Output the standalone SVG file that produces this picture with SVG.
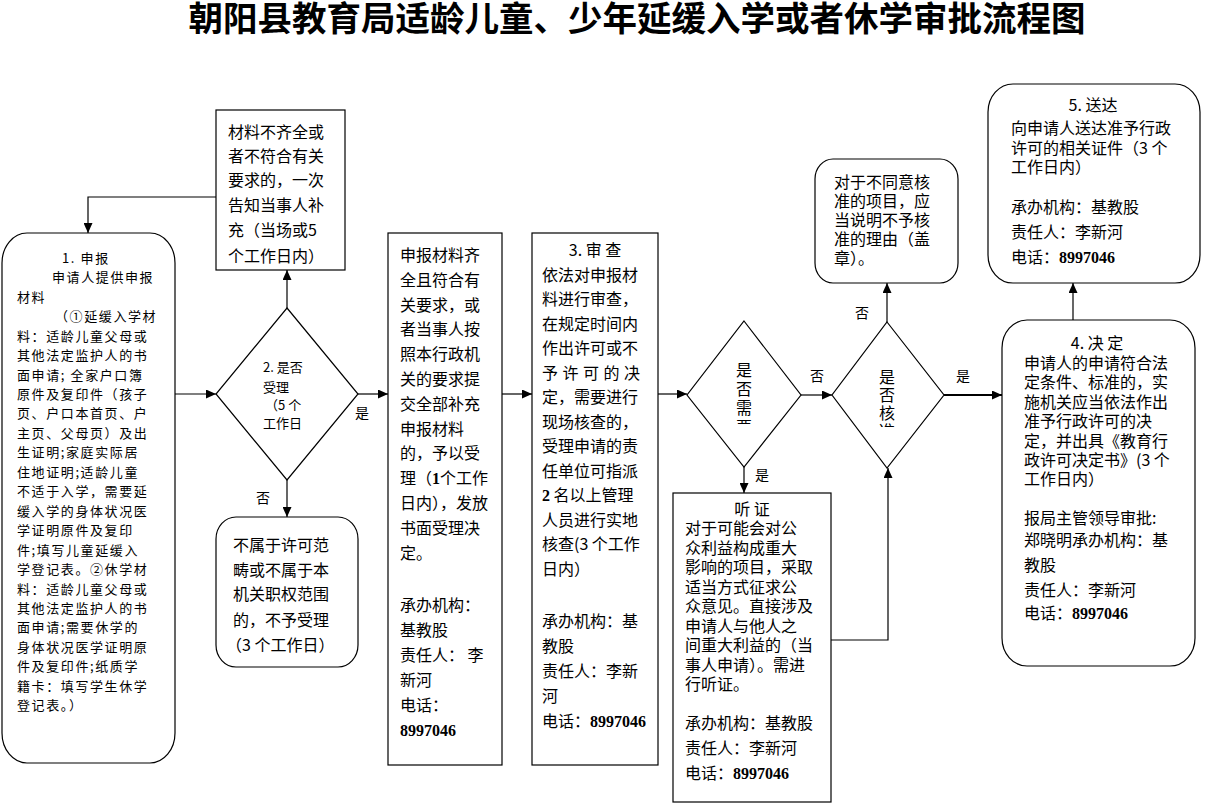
<svg xmlns="http://www.w3.org/2000/svg" width="1214" height="803" viewBox="0 0 1214 803">
<style>
  text { font-family: "Noto Sans CJK SC", "DejaVu Sans", sans-serif; fill: #000; }
  .t { font-size: 16px; }
  .s { font-size: 13px; letter-spacing: 1.6px; }
  .d { font-size: 13px; }
  .lbl { font-size: 14px; text-anchor: middle; }
  .v { font-size: 16px; writing-mode: vertical-rl; }
  .c { text-anchor: middle; }
  .num { font-family: "Liberation Serif", serif; font-weight: bold; }
  .title { font-size: 34.5px; font-weight: bold; text-anchor: middle; }
  .box { fill: #fff; stroke: #000; stroke-width: 1.2; }
  .ln { fill: none; stroke: #000; stroke-width: 1.2; }
</style>
<defs>
  <marker id="ah" markerUnits="userSpaceOnUse" markerWidth="10" markerHeight="9" refX="10" refY="4.5" orient="auto">
    <path d="M0,0 L10,4.5 L0,9 z" fill="#000"/>
  </marker>
  <clipPath id="clip3"><rect x="720" y="350" width="50" height="74"/></clipPath>
  <clipPath id="clip4"><rect x="863" y="355" width="50" height="72"/></clipPath>
</defs>
<rect width="1214" height="803" fill="#fff"/>
<text class="title" x="637" y="31">朝阳县教育局适龄儿童、少年延缓入学或者休学审批流程图</text>

<g id="connectors">
  <polyline class="ln" points="216,197 88,197 88,233" marker-end="url(#ah)"/>
  <line class="ln" x1="175" y1="394" x2="216" y2="394" marker-end="url(#ah)"/>
  <line class="ln" x1="287" y1="308" x2="287" y2="270" marker-end="url(#ah)"/>
  <line class="ln" x1="358" y1="394" x2="388" y2="394" marker-end="url(#ah)"/>
  <line class="ln" x1="287" y1="480" x2="287" y2="517" marker-end="url(#ah)"/>
  <line class="ln" x1="502" y1="394" x2="532" y2="394" marker-end="url(#ah)"/>
  <line class="ln" x1="658" y1="394" x2="687" y2="394" marker-end="url(#ah)"/>
  <line class="ln" x1="744" y1="467" x2="744" y2="493" marker-end="url(#ah)"/>
  <line class="ln" x1="801" y1="395" x2="832" y2="395" marker-end="url(#ah)"/>
  <polyline class="ln" points="831,640 888,640 888,468" marker-end="url(#ah)"/>
  <line class="ln" x1="887" y1="322" x2="887" y2="283" marker-end="url(#ah)"/>
  <line class="ln" x1="944" y1="395" x2="1002" y2="395" marker-end="url(#ah)" style="stroke-width:2.2"/>
  <line class="ln" x1="1073" y1="320" x2="1073" y2="283" marker-end="url(#ah)"/>
  <text class="lbl" x="362" y="418">是</text>
  <text class="lbl" x="263" y="503">否</text>
  <text class="lbl" x="762" y="480">是</text>
  <text class="lbl" x="817" y="381">否</text>
  <text class="lbl" x="862" y="318">否</text>
  <text class="lbl" x="963" y="381">是</text>
</g>

<g id="n1">
  <rect class="box" x="2" y="233" width="173" height="530" rx="25" ry="30"/>
  <text class="s">
    <tspan x="62" y="262.8">1. 申报</tspan>
    <tspan x="52" y="282.2">申请人提供申报</tspan>
    <tspan x="17" y="301.7">材料</tspan>
    <tspan x="55" y="321.1">（①延缓入学材</tspan>
    <tspan x="17" y="340.6">料：适龄儿童父母或</tspan>
    <tspan x="17" y="360.0">其他法定监护人的书</tspan>
    <tspan x="17" y="379.5">面申请; 全家户口簿</tspan>
    <tspan x="17" y="399.0">原件及复印件（孩子</tspan>
    <tspan x="17" y="418.4">页、户口本首页、户</tspan>
    <tspan x="17" y="437.9">主页、父母页）及出</tspan>
    <tspan x="17" y="457.3">生证明;家庭实际居</tspan>
    <tspan x="17" y="476.8">住地证明;适龄儿童</tspan>
    <tspan x="17" y="496.2">不适于入学，需要延</tspan>
    <tspan x="17" y="515.6">缓入学的身体状况医</tspan>
    <tspan x="17" y="535.1">学证明原件及复印</tspan>
    <tspan x="17" y="554.6">件;填写儿童延缓入</tspan>
    <tspan x="17" y="574.0">学登记表。②休学材</tspan>
    <tspan x="17" y="593.5">料：适龄儿童父母或</tspan>
    <tspan x="17" y="612.9">其他法定监护人的书</tspan>
    <tspan x="17" y="632.4">面申请;需要休学的</tspan>
    <tspan x="17" y="651.8">身体状况医学证明原</tspan>
    <tspan x="17" y="671.3">件及复印件;纸质学</tspan>
    <tspan x="17" y="690.7">籍卡：填写学生休学</tspan>
    <tspan x="17" y="710.2">登记表。）</tspan>
  </text>
</g>

<g id="n_buqi">
  <rect class="box" x="216" y="110" width="129" height="160"/>
  <text class="t">
    <tspan x="228" y="138">材料不齐全或</tspan>
    <tspan x="228" y="162">者不符合有关</tspan>
    <tspan x="228" y="186">要求的，一次</tspan>
    <tspan x="228" y="211">告知当事人补</tspan>
    <tspan x="228" y="236">充（当场或5</tspan>
    <tspan x="228" y="262">个工作日内）</tspan>
  </text>
</g>

<g id="n2">
  <polygon class="box" points="287,308 358,394 287,480 216,394"/>
  <text class="d">
    <tspan x="263" y="372">2. 是否</tspan>
    <tspan x="263" y="392">受理</tspan>
    <tspan x="265" y="410">（5 个</tspan>
    <tspan x="263" y="428">工作日</tspan>
  </text>
</g>

<g id="n_bushu">
  <rect class="box" x="216" y="517" width="142" height="150" rx="20" ry="22"/>
  <text class="t">
    <tspan x="233" y="551">不属于许可范</tspan>
    <tspan x="233" y="576">畴或不属于本</tspan>
    <tspan x="233" y="600">机关职权范围</tspan>
    <tspan x="233" y="626">的，不予受理</tspan>
    <tspan x="226" y="651">（3 个工作日）</tspan>
  </text>
</g>

<g id="n_shouli">
  <rect class="box" x="388" y="233" width="114" height="532"/>
  <text class="t">
    <tspan x="400" y="261">申报材料齐</tspan>
    <tspan x="400" y="286">全且符合有</tspan>
    <tspan x="400" y="311">关要求，或</tspan>
    <tspan x="400" y="335">者当事人按</tspan>
    <tspan x="400" y="360">照本行政机</tspan>
    <tspan x="400" y="385">关的要求提</tspan>
    <tspan x="400" y="410">交全部补充</tspan>
    <tspan x="400" y="435">申报材料</tspan>
    <tspan x="400" y="459">的，予以受</tspan>
    <tspan x="400" y="484">理（<tspan class="num">1</tspan>个工作</tspan>
    <tspan x="400" y="509">日内），发放</tspan>
    <tspan x="400" y="534">书面受理决</tspan>
    <tspan x="400" y="559">定。</tspan>
    <tspan x="400" y="611">承办机构：</tspan>
    <tspan x="400" y="636">基教股</tspan>
    <tspan x="400" y="661">责任人： 李</tspan>
    <tspan x="400" y="686">新河</tspan>
    <tspan x="400" y="711">电话：</tspan>
    <tspan x="400" y="736" class="num">8997046</tspan>
  </text>
</g>

<g id="n3">
  <rect class="box" x="532" y="233" width="126" height="532"/>
  <text class="t c" x="595" y="256">3. 审 查</text>
  <text class="t">
    <tspan x="542" y="280.5">依法对申报材</tspan>
    <tspan x="542" y="305">料进行审查，</tspan>
    <tspan x="542" y="329.5">在规定时间内</tspan>
    <tspan x="542" y="354">作出许可或不</tspan>
    <tspan x="542" y="403">定，需要进行</tspan>
    <tspan x="542" y="427.5">现场核查的，</tspan>
    <tspan x="542" y="452">受理申请的责</tspan>
    <tspan x="542" y="476.5">任单位可指派</tspan>
    <tspan x="542" y="501"><tspan class="num">2</tspan> 名以上管理</tspan>
    <tspan x="542" y="525.5">人员进行实地</tspan>
    <tspan x="542" y="550">核查(3 个工作</tspan>
    <tspan x="542" y="574.5">日内）</tspan>
    <tspan x="542" y="627">承办机构：基</tspan>
    <tspan x="542" y="652">教股</tspan>
    <tspan x="542" y="677">责任人：李新</tspan>
    <tspan x="542" y="702">河</tspan>
    <tspan x="542" y="727">电话：<tspan class="num">8997046</tspan></tspan>
  </text>
  <text class="t" x="542" y="378.5" textLength="98" lengthAdjust="spacing">予 许 可 的 决</text>
</g>

<g id="n_tingzheng_q">
  <polygon class="box" points="744,321 801,395 744,467 687,395"/>
  <g clip-path="url(#clip3)">
    <text class="v" x="744" y="362" style="letter-spacing:3px">是否需要</text>
  </g>
</g>

<g id="n_tingzheng">
  <rect class="box" x="673" y="493" width="158" height="309"/>
  <text class="t c" x="752" y="515">听 证</text>
  <text class="t">
    <tspan x="685" y="534">对于可能会对公</tspan>
    <tspan x="685" y="553.5">众利益构成重大</tspan>
    <tspan x="685" y="573">影响的项目，采取</tspan>
    <tspan x="685" y="592.5">适当方式征求公</tspan>
    <tspan x="685" y="612">众意见。直接涉及</tspan>
    <tspan x="685" y="631.5">申请人与他人之</tspan>
    <tspan x="685" y="651">间重大利益的（当</tspan>
    <tspan x="685" y="670.5">事人申请）。需进</tspan>
    <tspan x="685" y="690">行听证。</tspan>
    <tspan x="685" y="729">承办机构：基教股</tspan>
    <tspan x="685" y="754">责任人：李新河</tspan>
    <tspan x="685" y="779">电话：<tspan class="num">8997046</tspan></tspan>
  </text>
</g>

<g id="n_hezhun_q">
  <polygon class="box" points="887,322 944,395 887,468 832,395"/>
  <g clip-path="url(#clip4)">
    <text class="v" x="887" y="369" style="letter-spacing:2px">是否核准</text>
  </g>
</g>

<g id="n_butongyi">
  <rect class="box" x="815" y="159" width="143" height="124" rx="18" ry="20"/>
  <text class="t">
    <tspan x="834" y="188">对于不同意核</tspan>
    <tspan x="834" y="207">准的项目，应</tspan>
    <tspan x="834" y="226">当说明不予核</tspan>
    <tspan x="834" y="245">准的理由（盖</tspan>
    <tspan x="834" y="264">章）。</tspan>
  </text>
</g>

<g id="n4">
  <rect class="box" x="1002" y="320" width="193" height="346" rx="25" ry="28"/>
  <text class="t c" x="1097" y="349">4. 决 定</text>
  <text class="t">
    <tspan x="1024" y="369">申请人的申请符合法</tspan>
    <tspan x="1024" y="388.4">定条件、标准的，实</tspan>
    <tspan x="1024" y="407.8">施机关应当依法作出</tspan>
    <tspan x="1024" y="427.2">准予行政许可的决</tspan>
    <tspan x="1024" y="446.6">定，并出具《教育行</tspan>
    <tspan x="1024" y="466">政许可决定书》(3 个</tspan>
    <tspan x="1024" y="485.4">工作日内）</tspan>
    <tspan x="1024" y="524">报局主管领导审批:</tspan>
    <tspan x="1024" y="546">郑晓明承办机构：基</tspan>
    <tspan x="1024" y="571">教股</tspan>
    <tspan x="1024" y="596">责任人：李新河</tspan>
    <tspan x="1024" y="619">电话：<tspan class="num">8997046</tspan></tspan>
  </text>
</g>

<g id="n5">
  <rect class="box" x="988" y="84" width="212" height="199" rx="25" ry="28"/>
  <text class="t c" x="1093" y="111">5. 送达</text>
  <text class="t">
    <tspan x="1011" y="134">向申请人送达准予行政</tspan>
    <tspan x="1011" y="154">许可的相关证件（3 个</tspan>
    <tspan x="1011" y="173">工作日内）</tspan>
    <tspan x="1011" y="213">承办机构：基教股</tspan>
    <tspan x="1011" y="238">责任人：李新河</tspan>
    <tspan x="1011" y="263">电话：<tspan class="num">8997046</tspan></tspan>
  </text>
</g>
</svg>
